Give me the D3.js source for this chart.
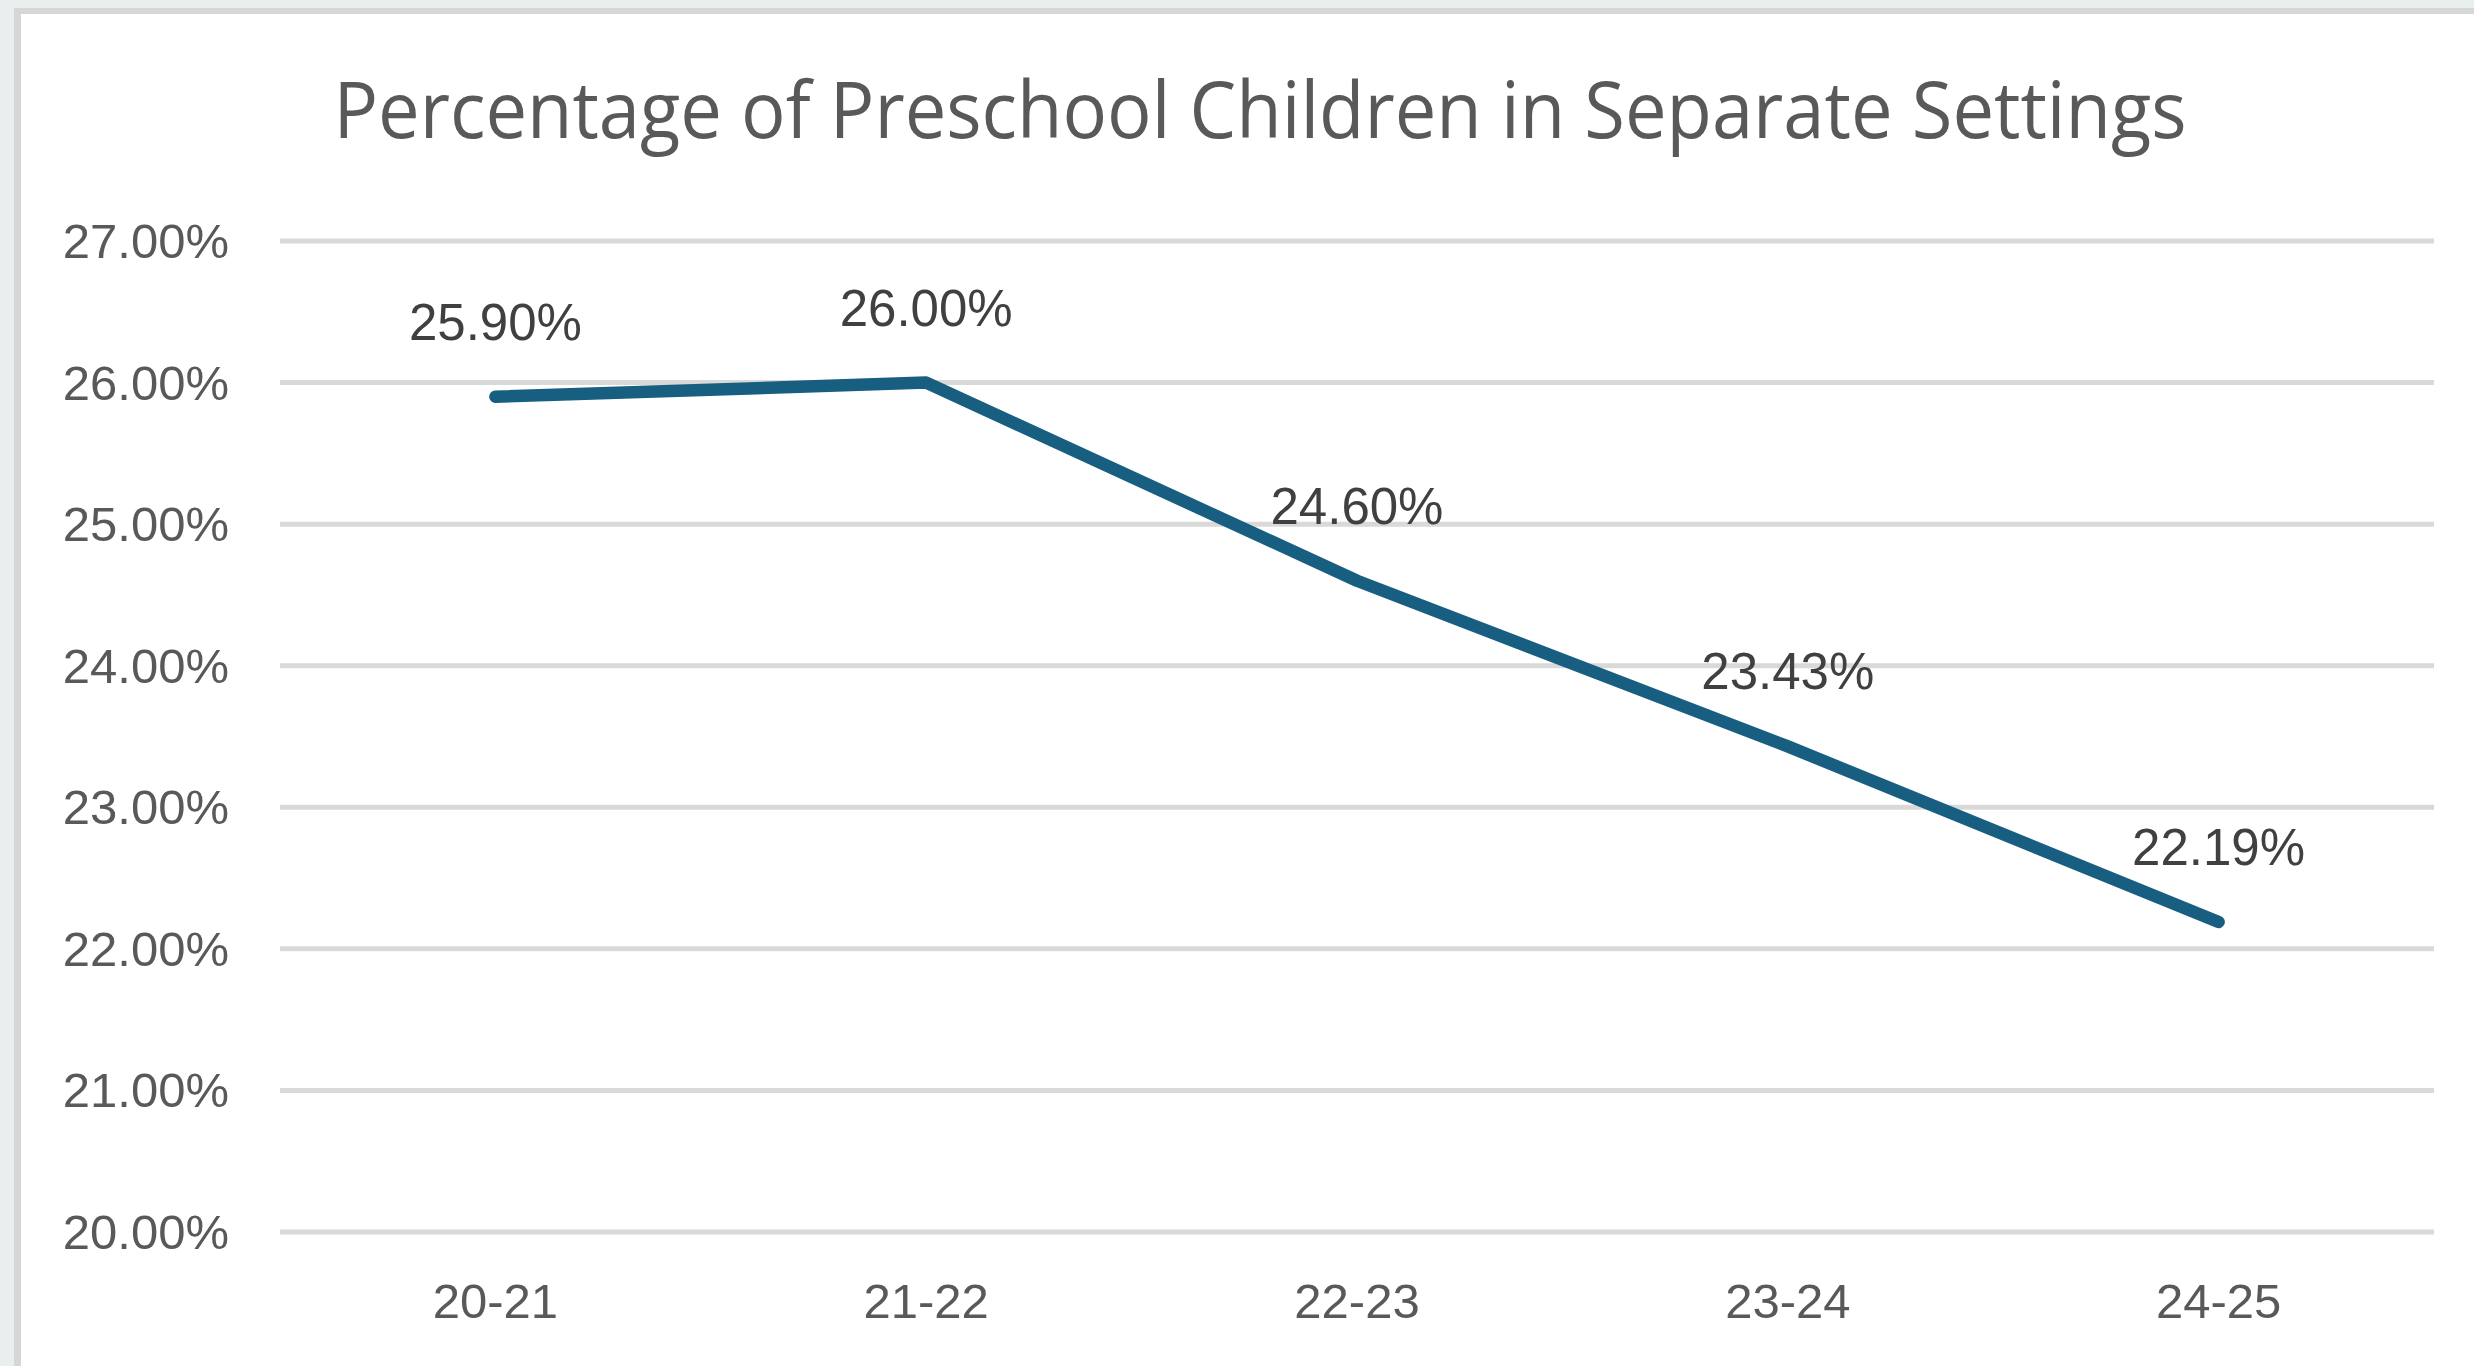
<!DOCTYPE html>
<html>
<head>
<meta charset="utf-8">
<script src="https://cdn.jsdelivr.net/npm/d3@7"></script>
<style>
  html, body { margin: 0; padding: 0; background: #e9eeee; overflow: hidden; }
  svg { display: block; }
</style>
</head>
<body>
<div id="chart"></div>
<script>
const categories = ['20-21', '21-22', '22-23', '23-24', '24-25'];
const values = [25.90, 26.00, 24.60, 23.43, 22.19];
const yTicks = [20, 21, 22, 23, 24, 25, 26, 27];
const chartTitle = 'Percentage of Preschool Children in Separate Settings';

const width = 2474;
const height = 1366;

const svg = d3.select('#chart')
    .append('svg')
    .attr('width', width)
    .attr('height', height);

// chart frame: grey border on top and left, white inside
svg.append('rect')
    .attr('x', 14)
    .attr('y', 8)
    .attr('width', width)
    .attr('height', height)
    .attr('fill', '#d6d6d6');
svg.append('rect')
    .attr('x', 21)
    .attr('y', 14)
    .attr('width', width)
    .attr('height', height)
    .attr('fill', '#ffffff');

const plotLeft = 280;
const plotRight = 2434;

const x = d3.scaleBand()
    .domain(categories)
    .range([plotLeft, plotRight]);

const y = d3.scaleLinear()
    .domain([20, 27])
    .range([1232, 241]);

svg.append('text')
    .attr('x', 1260)
    .attr('y', 138)
    .attr('text-anchor', 'middle')
    .attr('font-family', 'Open Sans, sans-serif')
    .attr('font-size', 78)
    .attr('fill', '#595959')
    .attr('textLength', 1853)
    .attr('lengthAdjust', 'spacingAndGlyphs')
    .text(chartTitle);

// gridlines
svg.append('g')
    .selectAll('line')
    .data(yTicks)
    .enter()
    .append('line')
    .attr('x1', plotLeft)
    .attr('x2', plotRight)
    .attr('y1', d => y(d))
    .attr('y2', d => y(d))
    .attr('stroke', '#d9d9d9')
    .attr('stroke-width', 5);

// y axis labels
svg.append('g')
    .selectAll('text')
    .data(yTicks)
    .enter()
    .append('text')
    .attr('x', 229)
    .attr('y', d => y(d) + 17)
    .attr('text-anchor', 'end')
    .attr('font-family', 'Liberation Sans, Arial, sans-serif')
    .attr('font-size', 49)
    .attr('fill', '#595959')
    .text(d => d3.format('.2f')(d) + '%');

// x axis labels
svg.append('g')
    .selectAll('text')
    .data(categories)
    .enter()
    .append('text')
    .attr('x', d => x(d) + x.bandwidth() / 2)
    .attr('y', 1318)
    .attr('text-anchor', 'middle')
    .attr('font-family', 'Liberation Sans, Arial, sans-serif')
    .attr('font-size', 49)
    .attr('fill', '#595959')
    .text(d => d);

const points = categories.map((c, i) => ({ cat: c, value: values[i] }));

const line = d3.line()
    .x(d => x(d.cat) + x.bandwidth() / 2)
    .y(d => y(d.value));

svg.append('path')
    .datum(points)
    .attr('d', line)
    .attr('fill', 'none')
    .attr('stroke', '#175e81')
    .attr('stroke-width', 12.5)
    .attr('stroke-linecap', 'round')
    .attr('stroke-linejoin', 'round');

// data labels
svg.append('g')
    .selectAll('text')
    .data(points)
    .enter()
    .append('text')
    .attr('x', d => x(d.cat) + x.bandwidth() / 2)
    .attr('y', d => y(d.value) - 57)
    .attr('text-anchor', 'middle')
    .attr('font-family', 'Liberation Sans, Arial, sans-serif')
    .attr('font-size', 51)
    .attr('fill', '#404040')
    .text(d => d3.format('.2f')(d.value) + '%');
</script>
</body>
</html>
